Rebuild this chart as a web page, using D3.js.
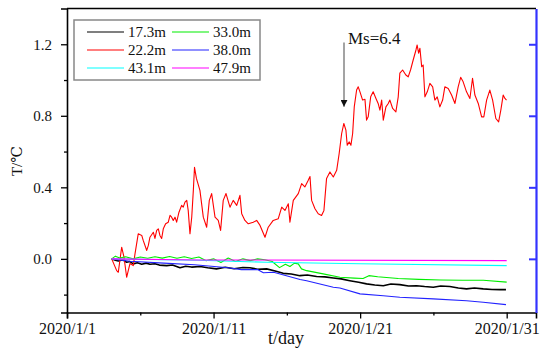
<!DOCTYPE html>
<html><head><meta charset="utf-8">
<script src="https://cdn.jsdelivr.net/npm/d3@7"></script>
<style>
html,body{margin:0;padding:0;background:#fff;}
svg text{font-family:"Liberation Serif","DejaVu Serif",serif;fill:#111;}
</style></head>
<body><svg id="c" width="550" height="357"></svg>
<script>
// ---- data (day offset from 2020/1/1, temperature change in °C) ----
const seriesNames = ["17.3m","22.2m","33.0m","38.0m","43.1m","47.9m"];
const seriesColors = ["#000000","#ff0000","#00ee00","#2222ff","#00ffff","#ff00ff"];

const black173 = [[3.05,0],[3.3,-0.008],[3.5,-0.012],[3.8,-0.005],[4.07,-0.019],[4.3,-0.015],[4.52,-0.028],[4.8,-0.022],[5.1,-0.03],[5.4,-0.024],[5.66,-0.03],[6.0,-0.027],[6.3,-0.035],[6.8,-0.038],[7.2,-0.034],[7.71,-0.05],[8.1,-0.041],[8.5,-0.046],[9.07,-0.043],[9.6,-0.05],[10.2,-0.056],[10.8,-0.047],[11.4,-0.055],[12.0,-0.048],[12.48,-0.05],[13.0,-0.058],[13.62,-0.056],[14.2,-0.068],[14.75,-0.081],[15.3,-0.085],[15.89,-0.094],[16.4,-0.09],[17.03,-0.099],[17.6,-0.101],[18.17,-0.107],[18.7,-0.112],[19.3,-0.122],[19.9,-0.131],[20.44,-0.14],[21.0,-0.146],[21.58,-0.15],[22.1,-0.141],[22.71,-0.144],[23.3,-0.152],[23.85,-0.15],[24.4,-0.155],[24.99,-0.159],[25.5,-0.152],[26.12,-0.155],[26.7,-0.163],[27.26,-0.168],[27.8,-0.163],[28.4,-0.168],[29.0,-0.171],[29.54,-0.172],[29.95,-0.172]];

const red222 = [[3.05,0],[3.39,-0.066],[3.5,-0.075],[3.73,0.065],[3.89,0.009],[4.07,-0.103],[4.18,-0.066],[4.3,-0.026],[4.52,-0.038],[4.64,0.028],[4.86,0.14],[5.1,0.131],[5.2,0.103],[5.44,0.047],[5.55,0.075],[5.66,0.121],[5.89,0.149],[6.0,0.114],[6.12,0.159],[6.23,0.168],[6.34,0.131],[6.46,0.114],[6.57,0.168],[6.73,0.196],[6.91,0.205],[7.03,0.243],[7.14,0.233],[7.25,0.215],[7.37,0.233],[7.48,0.205],[7.64,0.261],[7.82,0.299],[7.93,0.289],[8.05,0.317],[8.17,0.327],[8.27,0.271],[8.39,0.14],[8.51,0.233],[8.62,0.383],[8.7,0.512],[8.83,0.45],[8.97,0.411],[9.07,0.383],[9.3,0.233],[9.53,0.177],[9.71,0.327],[9.87,0.365],[10.1,0.233],[10.32,0.215],[10.48,0.159],[10.66,0.327],[10.85,0.365],[11.12,0.289],[11.34,0.327],[11.58,0.299],[11.8,0.355],[11.92,0.252],[12.14,0.215],[12.37,0.196],[12.71,0.205],[12.94,0.215],[13.17,0.187],[13.51,0.121],[13.73,0.177],[14.07,0.215],[14.41,0.224],[14.65,0.289],[14.87,0.271],[15.1,0.308],[15.21,0.205],[15.44,0.327],[15.78,0.365],[16.01,0.421],[16.23,0.402],[16.46,0.439],[16.58,0.46],[16.69,0.327],[16.92,0.28],[17.14,0.252],[17.37,0.243],[17.53,0.271],[17.71,0.45],[17.94,0.486],[18.17,0.458],[18.4,0.495],[18.57,0.589],[18.74,0.701],[18.89,0.757],[19.03,0.72],[19.12,0.635],[19.26,0.654],[19.37,0.635],[19.49,0.701],[19.6,0.85],[19.76,0.944],[19.87,0.962],[19.99,0.934],[20.17,0.888],[20.33,0.892],[20.44,0.776],[20.55,0.794],[20.72,0.906],[20.89,0.934],[21.08,0.897],[21.23,0.869],[21.35,0.832],[21.47,0.888],[21.58,0.776],[21.76,0.85],[21.92,0.869],[22.03,0.888],[22.22,0.841],[22.44,0.822],[22.6,0.906],[22.71,1.038],[22.9,1.056],[23.12,1.028],[23.28,1.018],[23.44,1.056],[23.62,1.112],[23.81,1.168],[23.89,1.196],[23.99,1.15],[24.08,1.178],[24.2,1.075],[24.3,1.084],[24.42,0.906],[24.58,0.934],[24.76,0.981],[24.95,0.962],[25.1,0.888],[25.26,0.906],[25.44,0.85],[25.63,0.888],[25.78,0.962],[26.01,0.953],[26.24,0.916],[26.47,0.869],[26.69,0.962],[26.86,1.015],[27.03,0.99],[27.26,0.934],[27.49,0.897],[27.67,1.01],[27.83,0.916],[28.06,0.869],[28.29,0.794],[28.44,0.794],[28.63,0.888],[28.85,0.944],[29.04,0.888],[29.26,0.785],[29.45,0.766],[29.6,0.832],[29.76,0.916],[29.88,0.897],[29.99,0.888]];

const green330 = [[3.05,0],[3.3,0.015],[3.6,0.005],[4.0,0.012],[4.5,0.0],[5.0,0.01],[5.5,0.003],[6.0,0.012],[6.5,0.004],[7.0,0.013],[7.5,0.003],[8.0,0.012],[8.5,0.002],[9.0,0.01],[9.5,-0.01],[10.0,0.0],[10.5,-0.02],[11.0,0.005],[11.5,-0.015],[12.0,0.0],[12.5,-0.01],[13.0,0.0],[13.5,-0.005],[14.0,-0.015],[14.5,-0.049],[14.9,-0.03],[15.21,-0.043],[15.5,-0.025],[15.78,-0.028],[16.0,-0.056],[16.35,-0.066],[17.48,-0.084],[18.62,-0.103],[19.6,-0.108],[20.2,-0.11],[20.6,-0.094],[21.2,-0.1],[22.6,-0.11],[24.0,-0.115],[25.5,-0.118],[27.0,-0.12],[28.4,-0.12],[30.0,-0.13]];

const blue380 = [[3.05,0],[4.3,-0.013],[6.6,-0.024],[8.7,-0.033],[11.0,-0.05],[11.9,-0.06],[13.0,-0.06],[13.4,-0.078],[14.1,-0.075],[15.9,-0.115],[16.35,-0.122],[18.17,-0.159],[18.62,-0.163],[19.99,-0.196],[21.58,-0.206],[22.71,-0.215],[24.99,-0.224],[27.26,-0.234],[28.4,-0.243],[29.95,-0.256]];

const cyan431 = [[3.05,0],[9.0,-0.008],[13.6,-0.019],[20.0,-0.027],[30.0,-0.038]];
const magenta479 = [[3.05,0],[9.0,-0.006],[30.0,-0.01]];

const xTickLabels = ["2020/1/1","2020/1/11","2020/1/21","2020/1/31"];
const xTickDays = [0,10,20,30];
const xMinorDays = [5,15,25];
const yMajor = [0.0,0.4,0.8,1.2];
const yMinor = [-0.2,0.2,0.6,1.0];
const quakeDay = 18.9, quakeLabel = "Ms=6.4";

// ---- layout ----
const svg = d3.select("#c");
const L = 67, R = 536, T = 8.5, B = 312.5;
const t0 = new Date(2020,0,1).getTime();
const toDate = d => new Date(t0 + d*864e5);
const x = d3.scaleTime().domain([toDate(0), toDate(32)]).range([L, R]);
const y = d3.scaleLinear().domain([-0.3, 1.4]).range([B, T]);

const allSeries = [black173, red222, green330, blue380, cyan431, magenta479];
const line = d3.line().x(p => x(toDate(p[0]))).y(p => y(p[1]));
const order = [0,1,2,3,4,5];
order.forEach(i => {
  svg.append("path").datum(allSeries[i]).attr("d", line)
    .attr("fill","none").attr("stroke", seriesColors[i])
    .attr("stroke-width", i===0 ? 1.6 : 1.1).attr("stroke-linejoin","round");
});

// frame top
svg.append("line").attr("x1",L).attr("x2",R).attr("y1",T).attr("y2",T).attr("stroke","#000").attr("stroke-width",1.6);

// left axis
const gy = svg.append("g").attr("transform",`translate(${L},0)`)
  .call(d3.axisLeft(y).tickValues(yMajor).tickFormat(d3.format(".1f")).tickSize(6).tickPadding(9));
svg.append("g").attr("transform",`translate(${L},0)`)
  .call(d3.axisLeft(y).tickValues(yMinor).tickFormat("").tickSize(3)).select(".domain").remove();
// bottom axis
const gx = svg.append("g").attr("transform",`translate(0,${B})`)
  .call(d3.axisBottom(x).tickValues(xTickDays.map(toDate)).tickFormat((d,i)=>xTickLabels[i]).tickSize(6).tickPadding(4));
svg.append("g").attr("transform",`translate(0,${B})`)
  .call(d3.axisBottom(x).tickValues(xMinorDays.map(toDate)).tickFormat("").tickSize(3)).select(".domain").remove();
// right axis (blue, inward ticks)
const gr = svg.append("g").attr("transform",`translate(${R},0)`)
  .call(d3.axisLeft(y).tickValues(yMajor).tickFormat("").tickSize(7).tickSizeOuter(0));
gr.selectAll("path,line").attr("stroke","#3333ff").attr("stroke-width",2);

svg.selectAll(".domain").attr("stroke-width",1.6);
gx.selectAll(".domain").attr("stroke","#000");
gr.select(".domain").attr("stroke","#3333ff").attr("stroke-width",2.2);
svg.selectAll(".tick line").attr("stroke-width",1.3);
gr.selectAll(".tick line").attr("stroke","#3333ff").attr("stroke-width",2);
gy.selectAll("text").style("font-size","15px").attr("fill","#111");
gx.selectAll("text").style("font-size","16px").attr("fill","#111");

// axis titles
svg.append("text").attr("transform","translate(22,161) rotate(-90)")
  .attr("text-anchor","middle").style("font-size","15px").text("T/℃");
svg.append("text").attr("x",286).attr("y",344).attr("text-anchor","middle")
  .style("font-size","18px").text("t/day");

// legend
const lg = svg.append("g");
lg.append("rect").attr("x",74).attr("y",20).attr("width",186).attr("height",60)
  .attr("fill","#fff").attr("stroke","#888").attr("stroke-width",1.5);
const legendOrder = [0,2,1,3,4,5];
legendOrder.forEach((si,k) => {
  const col = k%2, row = Math.floor(k/2);
  const lx = col===0 ? 87 : 172, ly = 32 + row*18;
  lg.append("line").attr("x1",lx).attr("x2",lx+37).attr("y1",ly).attr("y2",ly)
    .attr("stroke",seriesColors[si]).attr("stroke-width",1.2);
  lg.append("text").attr("x",lx+41).attr("y",ly).attr("dy","0.35em")
    .style("font-size","15px").text(seriesNames[si]);
});

// annotation arrow
const ax = x(toDate(quakeDay));
svg.append("defs").append("marker").attr("id","ah").attr("viewBox","0 0 10 10")
  .attr("refX",10).attr("refY",5).attr("markerWidth",7).attr("markerHeight",7)
  .attr("markerUnits","userSpaceOnUse").attr("orient","auto")
  .append("path").attr("d","M0,0 L10,5 L0,10 Z").attr("fill","#111");
svg.append("line").attr("x1",ax).attr("x2",ax).attr("y1",y(1.21)).attr("y2",y(0.85))
  .attr("stroke","#666").attr("stroke-width",1.2).attr("marker-end","url(#ah)");
svg.append("text").attr("x",ax+4).attr("y",44).style("font-size","17px").text(quakeLabel);
</script></body></html>
